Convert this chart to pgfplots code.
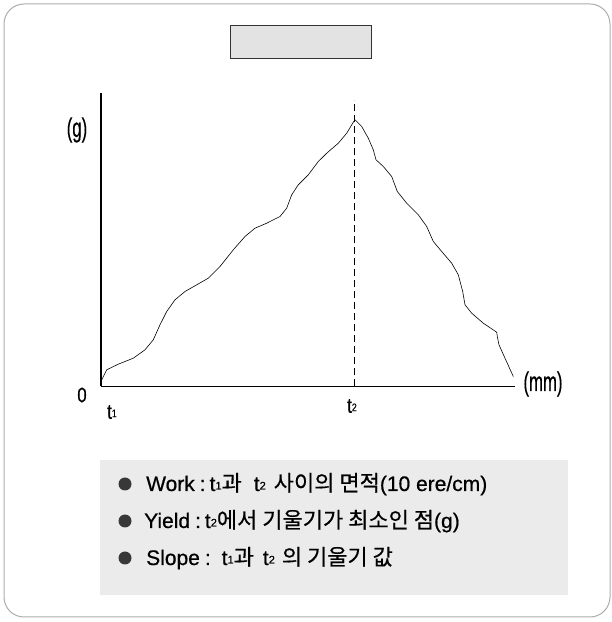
\documentclass[border=0pt]{standalone}
\usepackage{pgfplots}
\pgfplotsset{compat=1.18}
\usepackage{fontspec}
\setmainfont{Liberation Sans}[FakeBold=0.6]
\newfontfamily\kr{Noto Sans CJK KR}[FakeBold=0.5]
\newcommand\sub[1]{\raisebox{1.5pt}{\fontsize{11}{11}\selectfont #1}}
\newcommand\plab[1]{\scalebox{0.62}[1]{\fontsize{27}{30}\selectfont #1}}
\newcommand\tlab[1]{\scalebox{0.8}[1]{\fontsize{21}{24}\selectfont #1}}
\newcommand\leg[1]{{\fontsize{21}{24}\selectfont #1}}
\newcommand\K[1]{{\kr\fontsize{22}{24}\selectfont #1}}
\begin{document}
\begin{tikzpicture}[x=1pt,y=1pt]
\path (0,0) rectangle (612,622);
% outer frame
\draw[gray!65,line width=1pt,rounded corners=20pt] (4,5) rectangle (610,618);
% title box
\draw[black!80,line width=0.8pt,fill=gray!22] (230,564) rectangle (371,597);
% legend background
\fill[gray!16] (100,27) rectangle (568,162);
\begin{axis}[
  scale only axis, width=414pt, height=293.5pt,
  at={(101pt,235.5pt)}, anchor=south west,
  xmin=0, xmax=414, ymin=0, ymax=293.5,
  axis lines=left, axis line style={-, line width=1.1pt},
  ticks=none, clip=false]
\addplot[black, line width=0.6pt, line join=round] coordinates {
(0.7,6.7) (5.7,16.7) (17.3,22.3) (32.3,28.3) (44,36.7) (52.3,46.7) (59,61.7)
(65.7,75) (74,86.7) (84,95) (95.7,101.7) (107.3,108.3) (119,120) (132.3,136.7)
(144,150) (154,158.3) (165.7,163.3) (179,170) (185.7,178.3) (190.7,191.7)
(197.3,201.7) (207.3,211.7) (217.3,225) (225.7,233.3) (237.3,243.3)
(245.7,253.3) (251.7,263.3) (254,266.7)
(260.7,260) (267.3,248.3) (272.3,236.7) (275,226.7) (282.3,220) (290.7,210)
(296.3,195) (305.7,183.3) (317.3,171.7) (325.7,160) (332.3,145) (340.7,135)
(350.7,123.3) (357.3,111.7) (361.7,95) (364,81.7) (370.7,73.3) (382.3,63.3)
(395.7,54.3) (396.3,50) (398,41.7) (404,28.3) (412.3,10)};
\addplot[black, line width=0.8pt, dash pattern=on 7pt off 4pt] coordinates {(253,0) (253,286)};
\end{axis}
% axis labels
\node at (77,492) {\plab{(g)}};
\node at (82,227) {\tlab{0}};
\node at (543,238) {\plab{(mm)}};
\node at (112,210) {\tlab{t\sub{1}}};
\node at (352,216) {\tlab{t\sub{2}}};
% legend
\foreach \yy in {138,101,64} \fill[black!78] (125,\yy) circle (6.5pt);
\node[anchor=base west,inner sep=0pt] at (146,131) {\leg{Work\hspace{5pt}:\hspace{4pt}t\sub{1}\K{과}\hspace{12pt}t\sub{2}\hspace{8pt}\K{사이의 면적}(10 ere/cm)}};
\node[anchor=base west,inner sep=0pt] at (144,94) {\leg{Yield\hspace{5pt}:\hspace{4pt}t\sub{2}\K{에서 기울기가 최소인 점}(g)}};
\node[anchor=base west,inner sep=0pt] at (146,57) {\leg{Slope\hspace{5pt}:\hspace{11pt}t\sub{1}\K{과}\hspace{9pt}t\sub{2}\hspace{7pt}\K{의 기울기 값}}};
\end{tikzpicture}
\end{document}
